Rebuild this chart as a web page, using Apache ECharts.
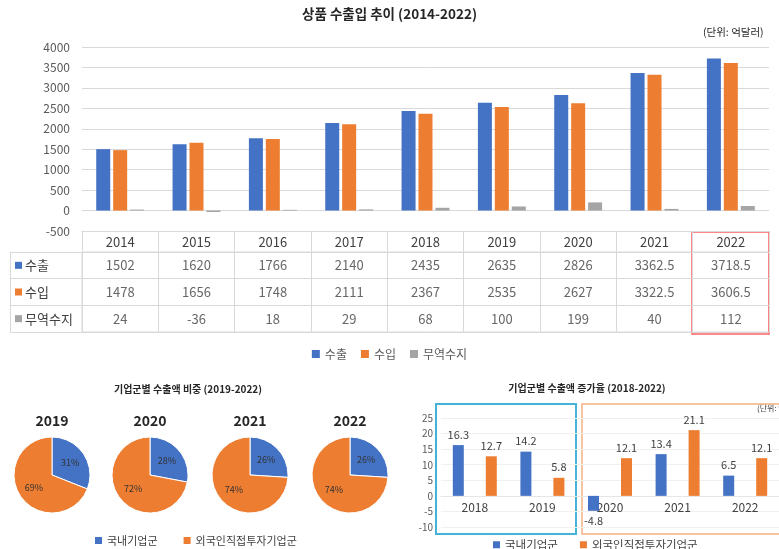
<!DOCTYPE html>
<html><head><meta charset="utf-8">
<script src="https://cdn.jsdelivr.net/npm/echarts@6/dist/echarts.min.js"></script>
<style>html,body{margin:0;padding:0;background:#fff}#c{width:779px;height:549px}</style>
</head><body><div id="c"></div>
<script>
// ---- data ----
const years = ['2014','2015','2016','2017','2018','2019','2020','2021','2022'];
const exportVals = [1502, 1620, 1766, 2140, 2435, 2635, 2826, 3362.5, 3718.5];
const importVals = [1478, 1656, 1748, 2111, 2367, 2535, 2627, 3322.5, 3606.5];
const balanceVals = [24, -36, 18, 29, 68, 100, 199, 40, 112];
const rowNames = ['수출', '수입', '무역수지'];
const pieYears = ['2019', '2020', '2021', '2022'];
const domesticShare = [31, 28, 26, 26];
const foreignShare = [69, 72, 74, 74];
const groupNames = ['국내기업군', '외국인직접투자기업군'];
const growthYears = ['2018', '2019', '2020', '2021', '2022'];
const domesticGrowth = [16.3, 14.2, -4.8, 13.4, 6.5];
const foreignGrowth = [12.7, 5.8, 12.1, 21.1, 12.1];

// ---- layout / style ----
const BLUE = '#4472c4', ORANGE = '#ed7d31', GRAY = '#a5a5a5', LINE = '#d9d9d9';
const FONT = '"Noto Sans CJK KR", "Noto Sans", sans-serif';
const pieCX = [52, 150, 250, 350], pieCY = 475, pieR = 38;
const rowColors = [BLUE, ORANGE, GRAY];
const tableRows = [exportVals, importVals, balanceVals];
const g3 = { top: 418, height: 109, min: -10, max: 25 };
const zeroOffset = -g3.height * (0 - g3.min) / (g3.max - g3.min);

const tableData = [];
tableRows.forEach((arr, r) => arr.forEach((v, i) => tableData.push([i, r, v])));

const pies = pieYears.map((y, k) => ({
  type: 'pie', name: y, center: [pieCX[k], pieCY], radius: pieR, startAngle: 90, clockwise: true,
  silent: true, animation: false,
  itemStyle: { borderColor: '#fff', borderWidth: 1 },
  label: { show: true, position: 'inside', formatter: '{c}%', fontSize: 9, color: '#333' },
  labelLine: { show: false },
  data: [
    { name: groupNames[0], value: domesticShare[k], itemStyle: { color: BLUE } },
    { name: groupNames[1], value: foreignShare[k], itemStyle: { color: ORANGE } }
  ]
}));

const growthLabel = { show: true, position: 'top', distance: 5, fontSize: 11, color: '#404040' };
const mkGrowth = arr => arr.map(v => v < 0 ? { value: v, label: { position: 'bottom' } } : v);

const rich = { t: { fontSize: 13, color: '#404040', padding: [0, 0, 0, 3] } };
rowColors.forEach((c, i) => rich['s' + i] = { width: 7, height: 7, backgroundColor: c });

const graphics = [
  { type: 'text', left: 'center', top: 7, style: { text: '상품 수출입 추이 (2014-2022)', font: 'bold 13.5px ' + FONT, fill: '#262626' } },
  { type: 'text', x: 703, y: 27, style: { text: '(단위: 억달러)', font: '10.5px ' + FONT, fill: '#262626' } },
  { type: 'text', x: 188, y: 384, style: { text: '기업군별 수출액 비중 (2019-2022)', font: 'bold 10px ' + FONT, fill: '#262626', textAlign: 'center' } },
  { type: 'text', x: 587, y: 383, style: { text: '기업군별 수출액 증가율 (2018-2022)', font: 'bold 10px ' + FONT, fill: '#262626', textAlign: 'center' } },
  { type: 'text', x: 757, y: 404, style: { text: '(단위: %)', font: '8px ' + FONT, fill: '#404040' } },
  { type: 'rect', shape: { x: 692, y: 232, width: 77, height: 102 }, style: { fill: 'none', stroke: '#ff6060', lineWidth: 1.5 } },
  { type: 'rect', shape: { x: 436, y: 404, width: 140, height: 130 }, style: { fill: 'none', stroke: '#45b2d8', lineWidth: 2 } },
  { type: 'rect', shape: { x: 582, y: 404, width: 200, height: 130 }, style: { fill: 'none', stroke: '#f4b183', lineWidth: 1.5 } }
];
pieYears.forEach((y, k) => graphics.push({ type: 'text', x: pieCX[k], y: 414, style: { text: y, font: 'bold 14px ' + FONT, fill: '#262626', textAlign: 'center' } }));

const chart = echarts.init(document.getElementById('c'));
chart.setOption({
  animation: false,
  textStyle: { fontFamily: FONT },
  grid: [
    { left: 82, right: 10, top: 47, height: 184 },
    { left: 82, right: 10, top: 252, height: 80, show: true, borderColor: LINE, borderWidth: 1 },
    { left: 441, right: 0, top: g3.top, height: g3.height }
  ],
  xAxis: [
    { gridIndex: 0, type: 'category', data: years,
      axisLine: { onZero: false, lineStyle: { color: LINE } },
      axisTick: { show: true, length: 21, lineStyle: { color: LINE } },
      axisLabel: { margin: 5, fontSize: 13, color: '#404040' } },
    { gridIndex: 1, type: 'category', data: years,
      axisLine: { show: false }, axisTick: { show: false }, axisLabel: { show: false },
      splitLine: { show: true, lineStyle: { color: LINE } } },
    { gridIndex: 2, type: 'category', data: growthYears, offset: zeroOffset,
      axisLine: { onZero: false, lineStyle: { color: '#e6e6e6' } }, axisTick: { show: false },
      axisLabel: { margin: 6, fontSize: 12, color: '#404040' } }
  ],
  yAxis: [
    { gridIndex: 0, type: 'value', min: -500, max: 4000, interval: 500,
      axisLine: { show: false }, axisTick: { show: false },
      axisLabel: { margin: 12, fontSize: 12, color: '#595959', formatter: v => String(v) },
      splitLine: { lineStyle: { color: LINE } } },
    { gridIndex: 1, type: 'category', inverse: true, data: rowNames,
      axisLine: { show: false },
      axisTick: { show: true, length: 72, lineStyle: { color: LINE } },
      axisLabel: { align: 'left', margin: 67, formatter: (v, i) => '{s' + i + '| }{t|' + v + '}', rich: rich },
      splitLine: { show: true, lineStyle: { color: LINE } } },
    { gridIndex: 1, type: 'category', data: rowNames, position: 'left', offset: 72,
      axisLine: { show: true, lineStyle: { color: LINE } }, axisTick: { show: false }, axisLabel: { show: false } },
    { gridIndex: 2, type: 'value', min: g3.min, max: g3.max, interval: 5,
      axisLine: { show: false }, axisTick: { show: false },
      axisLabel: { margin: 8, fontSize: 10, color: '#595959' },
      splitLine: { lineStyle: { color: '#f0f0f0' } } }
  ],
  legend: [
    { data: ['수출', '수입', '무역수지'], left: 'center', top: 343, icon: 'rect', itemWidth: 8, itemHeight: 8, itemGap: 14,
      textStyle: { fontSize: 12, color: '#595959' } },
    { data: groupNames, left: 90, top: 530, icon: 'rect', itemWidth: 7, itemHeight: 7, itemGap: 26,
      textStyle: { fontSize: 11, color: '#404040' } },
    { data: groupNames, left: 488, top: 534, icon: 'rect', itemWidth: 7, itemHeight: 7, itemGap: 22,
      textStyle: { fontSize: 11.5, color: '#404040' } }
  ],
  series: [
    { name: '수출', type: 'bar', xAxisIndex: 0, yAxisIndex: 0, data: exportVals, barWidth: 14, barGap: '21%', itemStyle: { color: BLUE } },
    { name: '수입', type: 'bar', xAxisIndex: 0, yAxisIndex: 0, data: importVals, barWidth: 14, barGap: '21%', itemStyle: { color: ORANGE } },
    { name: '무역수지', type: 'bar', xAxisIndex: 0, yAxisIndex: 0, data: balanceVals, barWidth: 14, barGap: '21%', itemStyle: { color: GRAY } },
    { name: 'table', type: 'scatter', xAxisIndex: 1, yAxisIndex: 1, data: tableData, symbolSize: 0, silent: true,
      label: { show: true, position: 'inside', formatter: p => String(p.value[2]), fontSize: 13, color: '#404040' } },
    ...pies,
    { name: groupNames[0], type: 'bar', xAxisIndex: 2, yAxisIndex: 3, data: mkGrowth(domesticGrowth), barWidth: 11, barGap: '200%',
      itemStyle: { color: BLUE }, label: growthLabel },
    { name: groupNames[1], type: 'bar', xAxisIndex: 2, yAxisIndex: 3, data: mkGrowth(foreignGrowth), barWidth: 11, barGap: '200%',
      itemStyle: { color: ORANGE }, label: growthLabel }
  ],
  graphic: graphics
});
</script></body></html>
